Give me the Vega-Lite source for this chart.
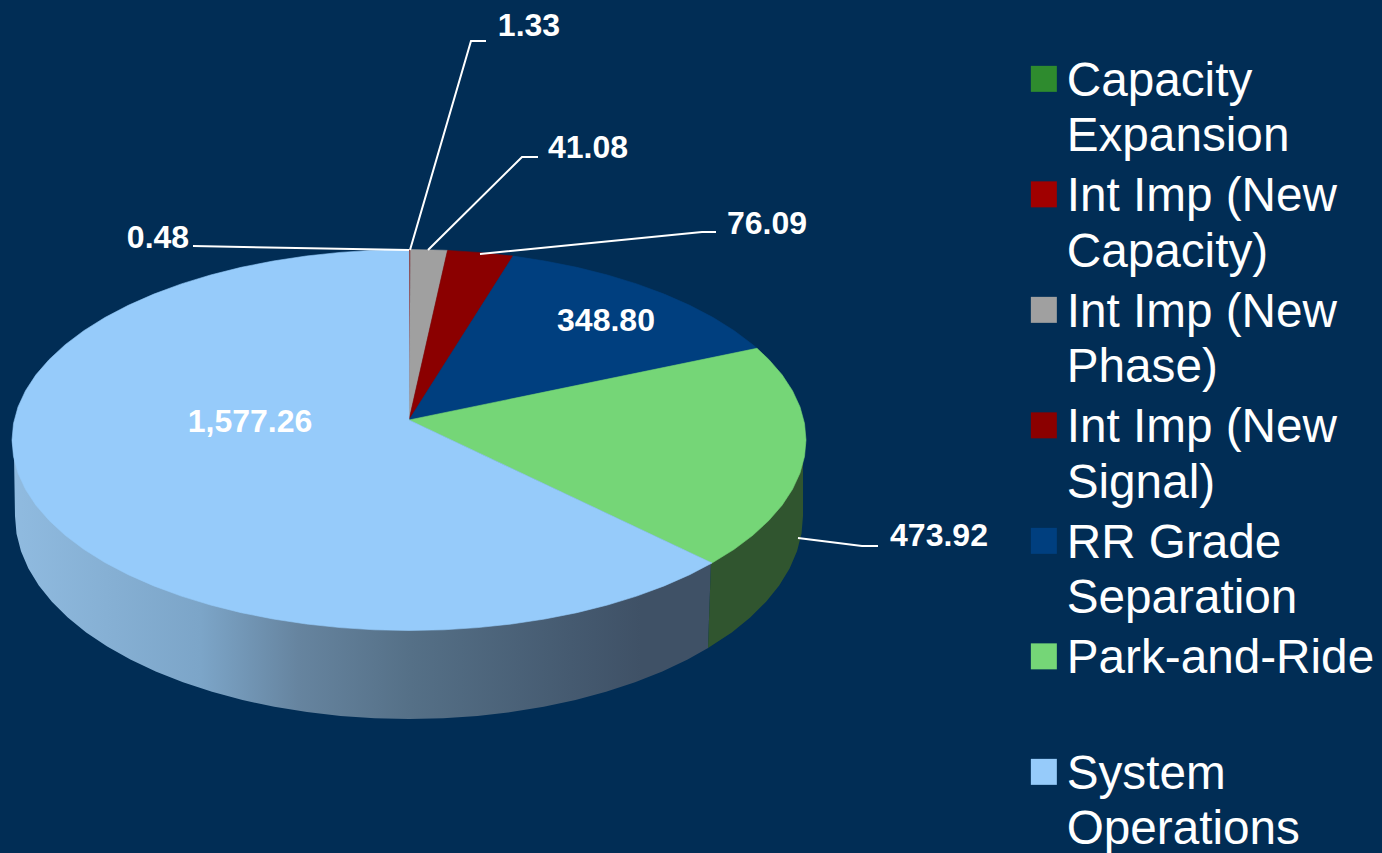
{"$schema":"https://vega.github.io/schema/vega-lite/v6.json","width":1382,"height":853,"padding":0,"autosize":"none","background":"#012D55","config":{"view":{"stroke":null},"font":"Liberation Sans"},"projection":{"type":"identity","reflectY":true,"scale":1,"translate":[409,420]},
"datasets":{"walls":[
{"part":"System Operations side","geo":{"type":"Polygon","coordinates":[[[-397,-20],[-395,-35],[-394,-96],[-392.5,-113.7],[-388,-131.3],[-380.6,-148.5],[-370.2,-165.4],[-357.1,-181.8],[-341.2,-197.5],[-322.8,-212.4],[-301.8,-226.5],[-278.6,-239.5],[-253.3,-251.5],[-226,-262.3],[-197,-271.8],[-166.5,-280],[-134.7,-286.8],[-102,-292.1],[-68.4,-295.9],[-34.3,-298.2],[0,-299],[34.3,-298.2],[68.4,-295.9],[102,-292.1],[134.7,-286.8],[166.5,-280],[197,-271.8],[226,-262.3],[253.3,-251.5],[278.6,-239.5],[299,-228],[302,-142],[0,-20],[-397,-20]]]}}],
"greenwall":[{"part":"Park-and-Ride side","geo":{"type":"Polygon","coordinates":[[[302,-142],[299,-228],[322.8,-212.4],[341.2,-197.5],[357.1,-181.8],[370.2,-165.4],[380.6,-148.5],[388,-131.3],[392.5,-113.7],[394,-96],[394,-37],[397,-23],[300,-50],[302,-142]]]}}],
"slices":[
{"category":"Capacity Expansion","value":0.48,"lx":-251,"ly":182,"geo":{"type":"Polygon","coordinates":[[[0,0],[0,170.5],[0.5,170.5],[0,0]]]},"leader":{"type":"LineString","coordinates":[[-216,174],[0,170]]}},
{"category":"Int Imp (New Capacity)","value":1.33,"lx":120,"ly":394,"geo":{"type":"Polygon","coordinates":[[[0,0],[0.5,170.5],[1.5,170.5],[0,0]]]},"leader":{"type":"LineString","coordinates":[[1,170],[62,379],[77,379]]}},
{"category":"Int Imp (New Phase)","value":41.08,"lx":179,"ly":272,"geo":{"type":"Polygon","coordinates":[[[0,0],[1.5,170.5],[34.6,169.8],[38.5,169.6],[0,0]]]},"leader":{"type":"LineString","coordinates":[[19,170],[113,263],[129,263]]}},
{"category":"Int Imp (New Signal)","value":76.09,"lx":358,"ly":196,"geo":{"type":"Polygon","coordinates":[[[0,0],[38.5,169.6],[68.9,167.6],[104,163.9],[0,0]]]},"leader":{"type":"LineString","coordinates":[[71,166],[293,188],[307,188]]}},
{"category":"RR Grade Separation","value":348.80,"lx":197,"ly":99,"geo":{"type":"Polygon","coordinates":[[[0,0],[104,163.9],[135.8,159],[167.8,152.7],[198.5,145],[227.7,136.1],[255.2,125.9],[280.7,114.7],[304.1,102.5],[325.2,89.3],[343.8,75.3],[348,71.7],[0,0]]]}},
{"category":"Park-and-Ride","value":473.92,"lx":530,"ly":-116,"geo":{"type":"Polygon","coordinates":[[[0,0],[348,71.7],[359.8,60.5],[373.1,45.2],[383.5,29.3],[391,13.1],[395.5,-3.4],[397,-20],[395.5,-36.6],[391,-53.1],[383.5,-69.3],[373.1,-85.2],[359.8,-100.5],[343.8,-115.3],[325.2,-129.3],[303,-143],[0,0]]]},"leader":{"type":"LineString","coordinates":[[389,-118],[453,-126],[469,-126]]}},
{"category":"System Operations","value":1577.26,"lx":-159,"ly":-2,"geo":{"type":"Polygon","coordinates":[[[0,0],[303,-143],[280.7,-154.7],[255.2,-165.9],[227.7,-176.1],[198.5,-185],[167.8,-192.7],[135.8,-199],[102.7,-204],[68.9,-207.6],[34.6,-209.8],[0,-210.5],[-34.6,-209.8],[-68.9,-207.6],[-102.7,-204],[-135.8,-199],[-167.8,-192.7],[-198.5,-185],[-227.7,-176.1],[-255.2,-165.9],[-280.7,-154.7],[-304.1,-142.5],[-325.2,-129.3],[-343.8,-115.3],[-359.8,-100.5],[-373.1,-85.2],[-383.5,-69.3],[-391,-53.1],[-395.5,-36.6],[-397,-20],[-395.5,-3.4],[-391,13.1],[-383.5,29.3],[-373.1,45.2],[-359.8,60.5],[-343.8,75.3],[-325.2,89.3],[-304.1,102.5],[-280.7,114.7],[-255.2,125.9],[-227.7,136.1],[-198.5,145],[-167.8,152.7],[-135.8,159],[-102.7,164],[-68.9,167.6],[-34.6,169.8],[0,170.5],[0,0]]]}}
]},
"layer":[
{"data":{"name":"walls"},"mark":{"type":"geoshape","stroke":null,"fill":{"gradient":"linear","x1":0,"y1":0,"x2":1,"y2":0,"stops":[{"offset":0,"color":"#90BBE0"},{"offset":0.27,"color":"#7CA5C8"},{"offset":0.41,"color":"#66849F"},{"offset":0.57,"color":"#557087"},{"offset":0.8,"color":"#455A70"},{"offset":0.9,"color":"#3F5166"},{"offset":1,"color":"#3F5166"}]}},"encoding":{"shape":{"field":"geo","type":"geojson"}}},
{"data":{"name":"greenwall"},"mark":{"type":"geoshape","stroke":null,"fill":"#30552F"},"encoding":{"shape":{"field":"geo","type":"geojson"}}},
{"data":{"name":"slices"},"mark":{"type":"geoshape","strokeWidth":0.6},"encoding":{"shape":{"field":"geo","type":"geojson"},"stroke":{"field":"category","type":"nominal","sort":null,"legend":null,"scale":{"domain":["Capacity Expansion","Int Imp (New Capacity)","Int Imp (New Phase)","Int Imp (New Signal)","RR Grade Separation","Park-and-Ride","System Operations"],"range":["#2E8B2E","#A00000","#A0A0A0","#8B0000","#003F7F","#75D677","#96CBFA"]}},"fill":{"field":"category","type":"nominal","sort":null,"scale":{"domain":["Capacity Expansion","Int Imp (New Capacity)","Int Imp (New Phase)","Int Imp (New Signal)","RR Grade Separation","Park-and-Ride","System Operations"],"range":["#2E8B2E","#A00000","#A0A0A0","#8B0000","#003F7F","#75D677","#96CBFA"]},"legend":{"title":null,"orient":"none","legendX":1020,"legendY":55,"symbolType":"square","symbolSize":676,"symbolStrokeWidth":0,"symbolOpacity":1,"labelFont":"Liberation Sans","labelFontSize":47.7,"labelColor":"#FFFFFF","labelLimit":500,"labelOffset":-1,"rowPadding":8.5,"encode":{"labels":{"update":{"lineHeight":{"value":55.5},"dy":{"value":3}}}},"labelExpr":"{'Capacity Expansion':['Capacity','Expansion'],'Int Imp (New Capacity)':['Int Imp (New','Capacity)'],'Int Imp (New Phase)':['Int Imp (New','Phase)'],'Int Imp (New Signal)':['Int Imp (New','Signal)'],'RR Grade Separation':['RR Grade','Separation'],'Park-and-Ride':['Park-and-Ride',' '],'System Operations':['System','Operations']}[datum.label]"}}}},
{"data":{"name":"slices"},"transform":[{"filter":"datum.leader"}],"mark":{"type":"geoshape","filled":false,"stroke":"#FFFFFF","strokeWidth":2},"encoding":{"shape":{"field":"leader","type":"geojson"}}},
{"data":{"name":"slices"},"mark":{"type":"text","color":"#FFFFFF","font":"Liberation Sans","fontWeight":"bold","fontSize":32,"align":"center","baseline":"middle"},"encoding":{"longitude":{"field":"lx","type":"quantitative"},"latitude":{"field":"ly","type":"quantitative"},"text":{"field":"value","type":"quantitative","format":",.2f"}}}
]}
